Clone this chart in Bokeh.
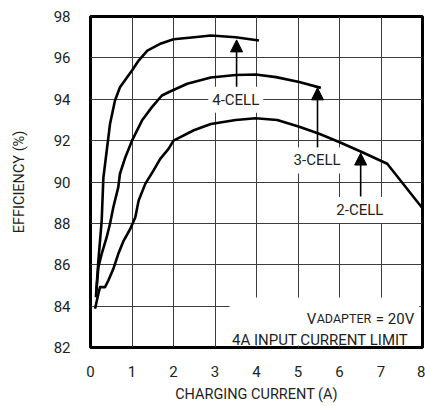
from bokeh.plotting import figure
from bokeh.models import Label, Arrow, NormalHead, BoxAnnotation, FixedTicker, Range1d
from bokeh.embed import file_html
from bokeh.resources import INLINE

FONT = "Roboto"
TXT = "#231f20"

# ---- data ----
x_ticks = [0, 1, 2, 3, 4, 5, 6, 7, 8]
y_ticks = [82, 84, 86, 88, 90, 92, 94, 96, 98]

x_4cell = [0.13, 0.19, 0.27, 0.31, 0.39, 0.47, 0.59, 0.71, 1.0, 1.16, 1.37, 1.7, 2.0, 2.5, 2.9, 3.5, 4.06]
y_4cell = [84.43, 86.2, 88.14, 90.2, 91.5, 92.8, 93.94, 94.58, 95.39, 95.87, 96.35, 96.7, 96.9, 97.0, 97.08, 97.0, 96.84]

x_3cell = [0.14, 0.19, 0.27, 0.39, 0.47, 0.55, 0.67, 0.71, 0.84, 1.0, 1.24, 1.48, 1.72, 1.88, 2.33, 2.9, 3.5, 3.98, 4.47, 5.03, 5.55]
y_3cell = [84.7, 85.88, 86.53, 87.33, 87.98, 88.78, 89.75, 90.4, 91.2, 92.0, 92.97, 93.62, 94.18, 94.34, 94.75, 95.05, 95.17, 95.2, 95.07, 94.83, 94.55]

x_2cell = [0.11, 0.19, 0.23, 0.35, 0.43, 0.55, 0.67, 0.8, 0.96, 1.08, 1.16, 1.32, 1.52, 1.68, 1.88, 2.0, 2.49, 2.9, 3.5, 3.98, 4.5, 5.03, 5.51, 5.99, 6.55, 7.15, 7.98]
y_2cell = [83.87, 84.6, 84.92, 84.92, 85.24, 85.8, 86.53, 87.17, 87.74, 88.3, 89.11, 89.91, 90.56, 91.12, 91.6, 92.0, 92.5, 92.8, 93.0, 93.08, 93.0, 92.67, 92.33, 91.93, 91.44, 90.88, 88.78]

cell_labels = ["4-CELL", "3-CELL", "2-CELL"]
label_x = [3.5, 5.46, 6.49]
label_y = [93.97, 91.04, 88.65]
arrow_tip_y = [96.87, 94.55, 91.4]
arrow_base_y = [94.45, 91.65, 89.3]
arrow_x = [3.52, 5.47, 6.51]

# ---- figure ----
p = figure(width=425, height=406, output_backend="svg", toolbar_location=None,
           x_range=Range1d(0, 8), y_range=Range1d(82, 98),
           min_border_left=90, min_border_right=3, min_border_top=16, min_border_bottom=59)
p.background_fill_color = "white"
p.border_fill_color = "white"
p.outline_line_color = "black"
p.outline_line_width = 3

p.xaxis.ticker = FixedTicker(ticks=x_ticks)
p.yaxis.ticker = FixedTicker(ticks=y_ticks)
for ax in (p.xaxis[0], p.yaxis[0]):
    ax.axis_line_color = None
    ax.major_tick_line_color = None
    ax.minor_tick_line_color = None
    ax.major_tick_out = 0
    ax.major_tick_in = 0
    ax.major_label_text_font = FONT
    ax.major_label_text_font_size = "15px"
    ax.major_label_text_color = TXT
    ax.axis_label_text_font = FONT
    ax.axis_label_text_font_size = "14.5px"
    ax.axis_label_text_font_style = "normal"
    ax.axis_label_text_color = TXT

p.xaxis.axis_label = "CHARGING CURRENT (A)"
p.yaxis.axis_label = "EFFICIENCY (%)"
p.xaxis.major_label_standoff = 18
p.xaxis.axis_label_standoff = 6
p.yaxis.major_label_standoff = 20
p.yaxis.axis_label_standoff = 23

p.grid.grid_line_color = "#3c3c3c"
p.grid.grid_line_width = 1

# curves
for xs, ys in ((x_4cell, y_4cell), (x_3cell, y_3cell), (x_2cell, y_2cell)):
    p.line(xs, ys, line_color="black", line_width=2.6, line_join="round")

# white box behind the condition text
p.add_layout(BoxAnnotation(left=3.35, right=7.92, bottom=82.1, top=84.42,
                           fill_color="white", fill_alpha=1, line_color=None))

# arrows
for ax_, yb, yt in zip(arrow_x, arrow_base_y, arrow_tip_y):
    p.add_layout(Arrow(x_start=ax_, y_start=yb, x_end=ax_, y_end=yt,
                       line_color="black", line_width=1.6,
                       end=NormalHead(size=12, fill_color="black", line_color="black", line_width=1)))

# cell labels with white background
for t, lx, ly in zip(cell_labels, label_x, label_y):
    p.add_layout(Label(x=lx, y=ly, text=t, text_align="center", text_baseline="middle",
                       text_font=FONT, text_font_size="15px", text_color=TXT,
                       background_fill_color="white", padding=4))

# condition text
p.add_layout(Label(x=7.8, y=83.4, text="= 20V", text_align="right", text_baseline="alphabetic",
                   text_font=FONT, text_font_size="15px", text_color=TXT))
p.add_layout(Label(x=7.8, y=83.4, text="ADAPTER", text_align="right", text_baseline="alphabetic",
                   x_offset=-43,
                   text_font=FONT, text_font_size="12.5px", text_color=TXT))
p.add_layout(Label(x=7.8, y=83.4, text="V", text_align="right", text_baseline="alphabetic",
                   x_offset=-98,
                   text_font=FONT, text_font_size="15px", text_color=TXT))
p.add_layout(Label(x=7.66, y=82.34, text="4A INPUT CURRENT LIMIT", text_align="right", text_baseline="alphabetic",
                   text_font=FONT, text_font_size="15px", text_color=TXT))

open("out.html", "w").write(file_html(p, INLINE))
